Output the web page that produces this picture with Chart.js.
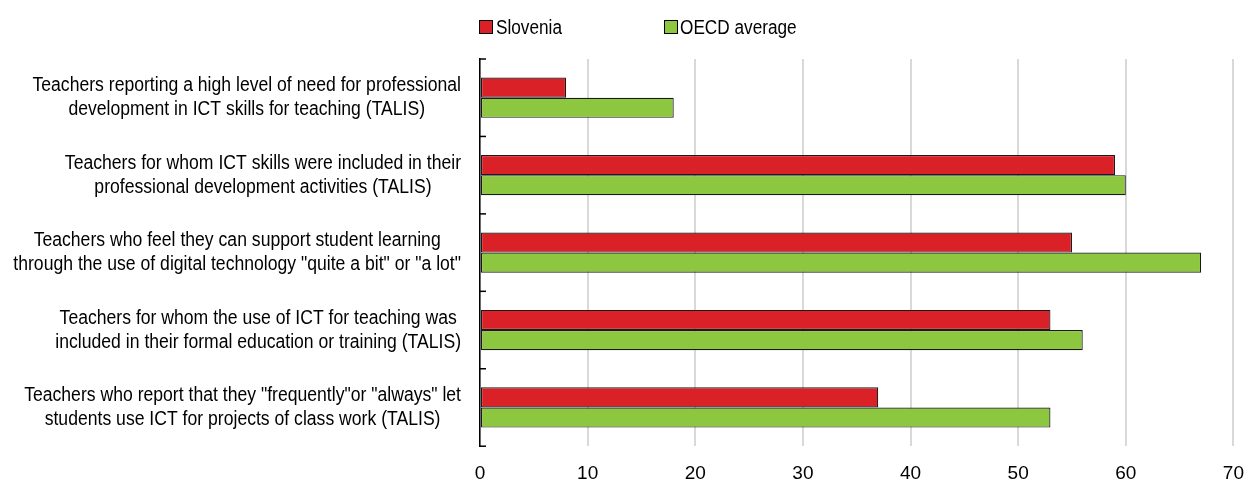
<!DOCTYPE html>
<html>
<head>
<meta charset="utf-8">
<script src="https://cdn.jsdelivr.net/npm/chart.js@4"></script>
<style>
  html, body { margin: 0; padding: 0; background: #fff; }
  #wrap { position: relative; width: 1244px; height: 479px; }
  #c { position: absolute; left: 0; top: 0; }
  .lg { position: absolute; font-family: 'Liberation Sans', Arial, sans-serif; font-size: 20px; color: #000; line-height: 20px; transform: scaleX(0.86); transform-origin: 0 0; white-space: nowrap; }
  .sw { position: absolute; width: 12px; height: 12px; border: 1px solid #000; }
</style>
</head>
<body>
<div id="wrap">
  <canvas id="c" width="1244" height="479"></canvas>
  <div class="sw" style="left:479px;top:20px;background:#DA2128;"></div>
  <div class="lg" style="left:496px;top:17px;">Slovenia</div>
  <div class="sw" style="left:664px;top:20px;background:#8DC63F;"></div>
  <div class="lg" style="left:680px;top:17px;">OECD average</div>
</div>
<script>
const categories = [
  ["Teachers reporting a high level of need for professional", "development in ICT skills for teaching (TALIS)"],
  ["Teachers for whom ICT skills were included in their", "professional development activities (TALIS)"],
  ["Teachers who feel they can support student learning", "through the use of digital technology \"quite a bit\" or \"a lot\""],
  ["Teachers for whom the use of ICT for teaching was", "included in their formal education or training (TALIS)"],
  ["Teachers who report that they \"frequently\"or \"always\" let", "students use ICT for projects of class work (TALIS)"]
];
const seriesNames = ["Slovenia", "OECD average"];
const slovenia = [8, 59, 55, 53, 37];
const oecd = [18, 60, 67, 56, 53];
const xTicks = [0, 10, 20, 30, 40, 50, 60, 70];

const FONT = "'Liberation Sans', Arial, sans-serif";
const NARROW = 0.88;

const yLabelPlugin = {
  id: 'yLabels',
  afterDraw(chart) {
    const ctx = chart.ctx;
    const ys = chart.scales.y;
    const area = chart.chartArea;
    ctx.save();
    ctx.font = '20px ' + FONT;
    ctx.fillStyle = '#000';
    ctx.textBaseline = 'middle';
    ctx.textAlign = 'center';
    const rightEdge = 461;
    chart.data.labels.forEach((lab, i) => {
      const yc = ys.getPixelForValue(i);
      const lines = Array.isArray(lab) ? lab : [lab];
      const maxW = Math.max(...lines.map(l => ctx.measureText(l).width)) * NARROW;
      const cx = rightEdge - maxW / 2;
      const lh = 24;
      lines.forEach((l, k) => {
        ctx.save();
        ctx.translate(cx, yc + (k - (lines.length - 1) / 2) * lh);
        ctx.scale(NARROW, 1);
        ctx.fillText(l, 0, 0);
        ctx.restore();
      });
    });
    ctx.strokeStyle = '#000';
    ctx.lineWidth = 1.5;
    const n = chart.data.labels.length;
    const catH = (area.bottom - area.top) / n;
    for (let k = 0; k <= n; k++) {
      const y = area.top + k * catH;
      ctx.beginPath();
      ctx.moveTo(area.left, y);
      ctx.lineTo(area.left + 6, y);
      ctx.stroke();
    }
    ctx.restore();
  }
};

new Chart(document.getElementById('c'), {
  type: 'bar',
  data: {
    labels: categories,
    datasets: [
      { label: seriesNames[0], data: slovenia, backgroundColor: '#DA2128', borderColor: '#1a1a1a', borderWidth: 1.2, borderSkipped: false },
      { label: seriesNames[1], data: oecd, backgroundColor: '#8DC63F', borderColor: '#1a1a1a', borderWidth: 1.2, borderSkipped: false }
    ]
  },
  options: {
    indexAxis: 'y',
    responsive: false,
    animation: false,
    layout: { padding: { top: 59, right: 0, bottom: -6, left: 0 } },
    datasets: { bar: { categoryPercentage: 0.52, barPercentage: 1 } },
    plugins: { legend: { display: false }, tooltip: { enabled: false } },
    scales: {
      x: {
        min: 0, max: 70,
        afterBuildTicks: s => { s.ticks = xTicks.map(v => ({ value: v })); },
        ticks: { font: { family: FONT, size: 19, lineHeight: 1.2 }, color: '#000', padding: 0, maxRotation: 0 },
        grid: { color: '#d9d9d9', lineWidth: 2, drawTicks: true, tickLength: 16, tickColor: 'rgba(255,255,255,0)' },
        border: { display: false }
      },
      y: {
        afterFit: s => { s.width = 480; },
        ticks: { display: false },
        grid: { display: false, drawTicks: false },
        border: { display: true, color: '#000', width: 1.5 }
      }
    }
  },
  plugins: [yLabelPlugin]
});
</script>
</body>
</html>
